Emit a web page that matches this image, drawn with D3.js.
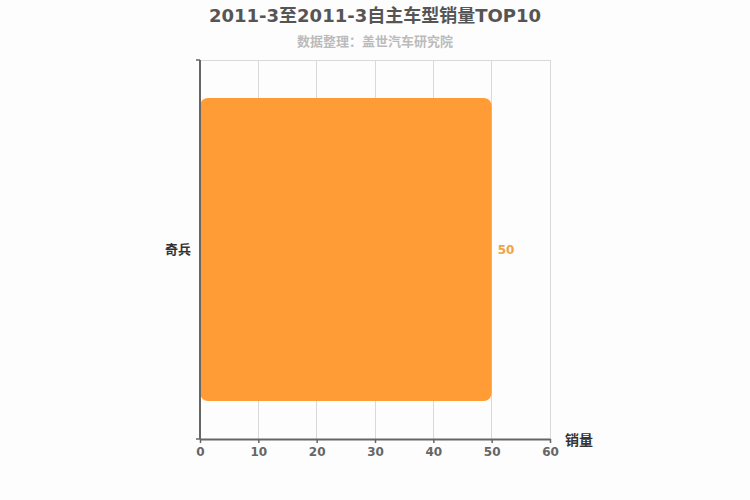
<!DOCTYPE html>
<html><head><meta charset="utf-8">
<script src="https://cdn.jsdelivr.net/npm/d3@7"></script>
<style>
body{margin:0;background:#fdfdfd;}
svg{display:block;}
text{font-family:"DejaVu Sans","Noto Sans CJK SC",sans-serif;}
</style></head><body>
<svg id="c" width="750" height="500"></svg>
<script>
const categories = ["奇兵"];
const values = [50];
const xTicks = [0,10,20,30,40,50,60];
const title = "2011-3至2011-3自主车型销量TOP10";
const subtitle = "数据整理：盖世汽车研究院";
const xName = "销量";

const svg = d3.select("#c");
const m = {l:200, r:550, t:60, b:439};
const x = d3.scaleLinear().domain([0,60]).range([m.l, m.r]);
const y = d3.scaleBand().domain(categories).range([m.t, m.b]).paddingInner(0.2).paddingOuter(0.1);

svg.append("rect").attr("width",750).attr("height",500).attr("fill","#fdfdfd");

// grid
svg.append("g").selectAll("line").data(xTicks.slice(1)).join("line")
  .attr("x1",d=>x(d)).attr("x2",d=>x(d)).attr("y1",m.t).attr("y2",m.b)
  .attr("stroke","#d9d9d9").attr("stroke-width",1).attr("shape-rendering","crispEdges");
svg.append("line").attr("x1",m.l).attr("x2",m.r).attr("y1",m.t).attr("y2",m.t)
  .attr("stroke","#d9d9d9").attr("shape-rendering","crispEdges");

// bars
const bw = y.bandwidth();
svg.append("g").selectAll("rect").data(categories).join("rect")
  .attr("x",x(0)).attr("y",d=>y(d))
  .attr("width",(d,i)=>x(values[i])-x(0)).attr("height",bw)
  .attr("rx",8).attr("ry",8).attr("fill","#ff9c35");

// value labels
svg.append("g").selectAll("text").data(categories).join("text")
  .attr("x",(d,i)=>x(values[i])+6).attr("y",d=>y(d)+bw/2)
  .attr("dy","0.35em").attr("font-size",12).attr("font-weight","bold")
  .attr("fill","#f0a445").text((d,i)=>values[i]);

// y axis
const ya = svg.append("g").attr("transform",`translate(${m.l},0)`)
  .call(d3.axisLeft(y).tickSize(0).tickPadding(9));
ya.select(".domain").remove();
ya.append("line").attr("x1",0).attr("x2",0).attr("y1",m.t).attr("y2",m.b)
  .attr("stroke","#666").attr("stroke-width",2);
ya.append("line").attr("x1",-4).attr("x2",0).attr("y1",m.t).attr("y2",m.t).attr("stroke","#666").attr("stroke-width",1.5);
ya.append("line").attr("x1",-4).attr("x2",0).attr("y1",m.b).attr("y2",m.b).attr("stroke","#666").attr("stroke-width",1.5);
ya.selectAll(".tick text").attr("font-size",13).attr("font-weight","bold").attr("fill","#333")
  .attr("font-family","'Noto Sans CJK SC',sans-serif");

// x axis
const xa = svg.append("g").attr("transform",`translate(0,${m.b})`)
  .call(d3.axisBottom(x).tickValues(xTicks).tickSize(4).tickPadding(4).tickSizeOuter(0));
xa.select(".domain").attr("stroke","#666").attr("stroke-width",2);
xa.selectAll(".tick line").attr("stroke","#666").attr("stroke-width",1.5);
xa.selectAll(".tick text").attr("font-size",12).attr("font-weight","bold").attr("fill","#666");

svg.append("text").attr("x",565).attr("y",445).attr("font-size",14).attr("font-weight","bold")
  .attr("fill","#333").attr("font-family","'Noto Sans CJK SC',sans-serif").text(xName);

svg.append("text").attr("x",375).attr("y",22).attr("text-anchor","middle")
  .attr("font-size",18).attr("font-weight","bold").attr("fill","#555").text(title);
svg.append("text").attr("x",375).attr("y",46).attr("text-anchor","middle")
  .attr("font-size",13).attr("font-weight","bold").attr("fill","#bbb")
  .attr("font-family","'Noto Sans CJK SC',sans-serif").text(subtitle);
</script></body></html>
